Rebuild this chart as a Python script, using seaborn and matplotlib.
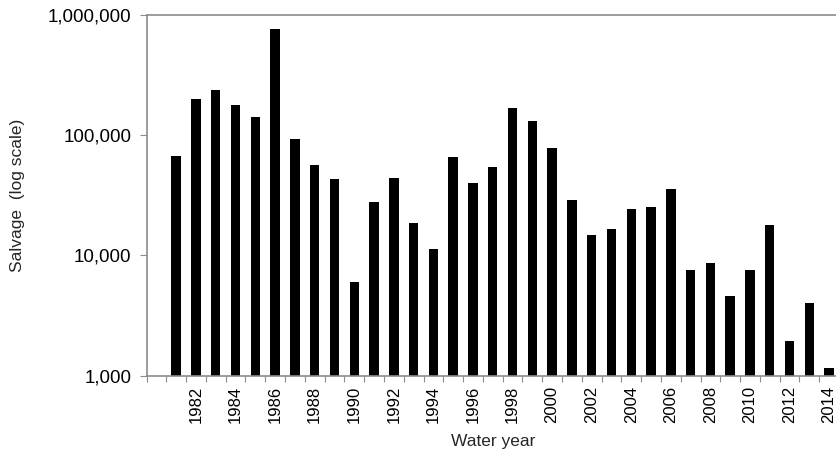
import matplotlib
matplotlib.use("Agg")
import matplotlib.pyplot as plt
import matplotlib.ticker as mticker
import seaborn as sns
import pandas as pd
import numpy as np

years = list(range(1981, 2015))
salvage = [67700, 201000, 237000, 180000, 142000, 760000, 93100, 56600, 43000,
           6000, 28000, 44100, 18800, 11400, 66000, 39800, 54500, 167000, 132000,
           78900, 29100, 14800, 16600, 24500, 25300, 35700, 7640, 8690, 4610,
           7500, 17800, 1960, 4030, 1150]
label_years = list(range(1982, 2015, 2))
y_ticks = [1000, 10000, 100000, 1000000]

df = pd.DataFrame({"year": years, "salvage": salvage})

sns.set_style("white")
plt.rcParams['font.family'] = ['Liberation Sans', 'DejaVu Sans']

fig = plt.figure(figsize=(8.36, 4.54), dpi=100)
ax_w = (839 - 146.5) / 836
ax = fig.add_axes([146.5 / 836, (454 - 375.7) / 454, ax_w, (375.7 - 15) / 454])

sns.barplot(data=df, x="year", y="salvage", native_scale=True, color="black",
            width=0.48, saturation=1, edgecolor="none", ax=ax)

ax.set_yscale("log")
ax.set_ylim(1000, 1000000)
ax.set_xlim(1979.5, 2014.5)
ax.set_yticks(y_ticks)
ax.yaxis.set_major_formatter(mticker.FuncFormatter(lambda v, p: f"{int(v):,}"))
ax.yaxis.set_minor_locator(mticker.NullLocator())

ax.set_xticks(label_years)
ax.set_xticklabels([str(y) for y in label_years], rotation=90)
ax.set_xticks(np.arange(1979.5, 2015, 1.0), minor=True)

grey = "#8c8c8c"
ax.tick_params(axis="x", which="major", length=0, pad=7, labelsize=12, labelcolor="black")
ax.tick_params(axis="x", which="minor", length=4, width=0.8, color=grey, direction="out", bottom=True)
ax.tick_params(axis="y", which="major", length=5, width=0.8, color=grey, direction="out",
               left=True, labelsize=13.5, pad=6, labelcolor="black")

for side in ["left", "bottom", "top"]:
    ax.spines[side].set_visible(True)
    ax.spines[side].set_color(grey)
    ax.spines[side].set_linewidth(1.2)
ax.spines["right"].set_visible(False)

ax.set_xlabel("Water year", fontsize=12.5, labelpad=8)
ax.set_ylabel("Salvage  (log scale)", fontsize=12.5)
ax.yaxis.set_label_coords((25 - 146.5) / 836 / ax_w, 0.5)

fig.savefig("out.png", dpi=100)
